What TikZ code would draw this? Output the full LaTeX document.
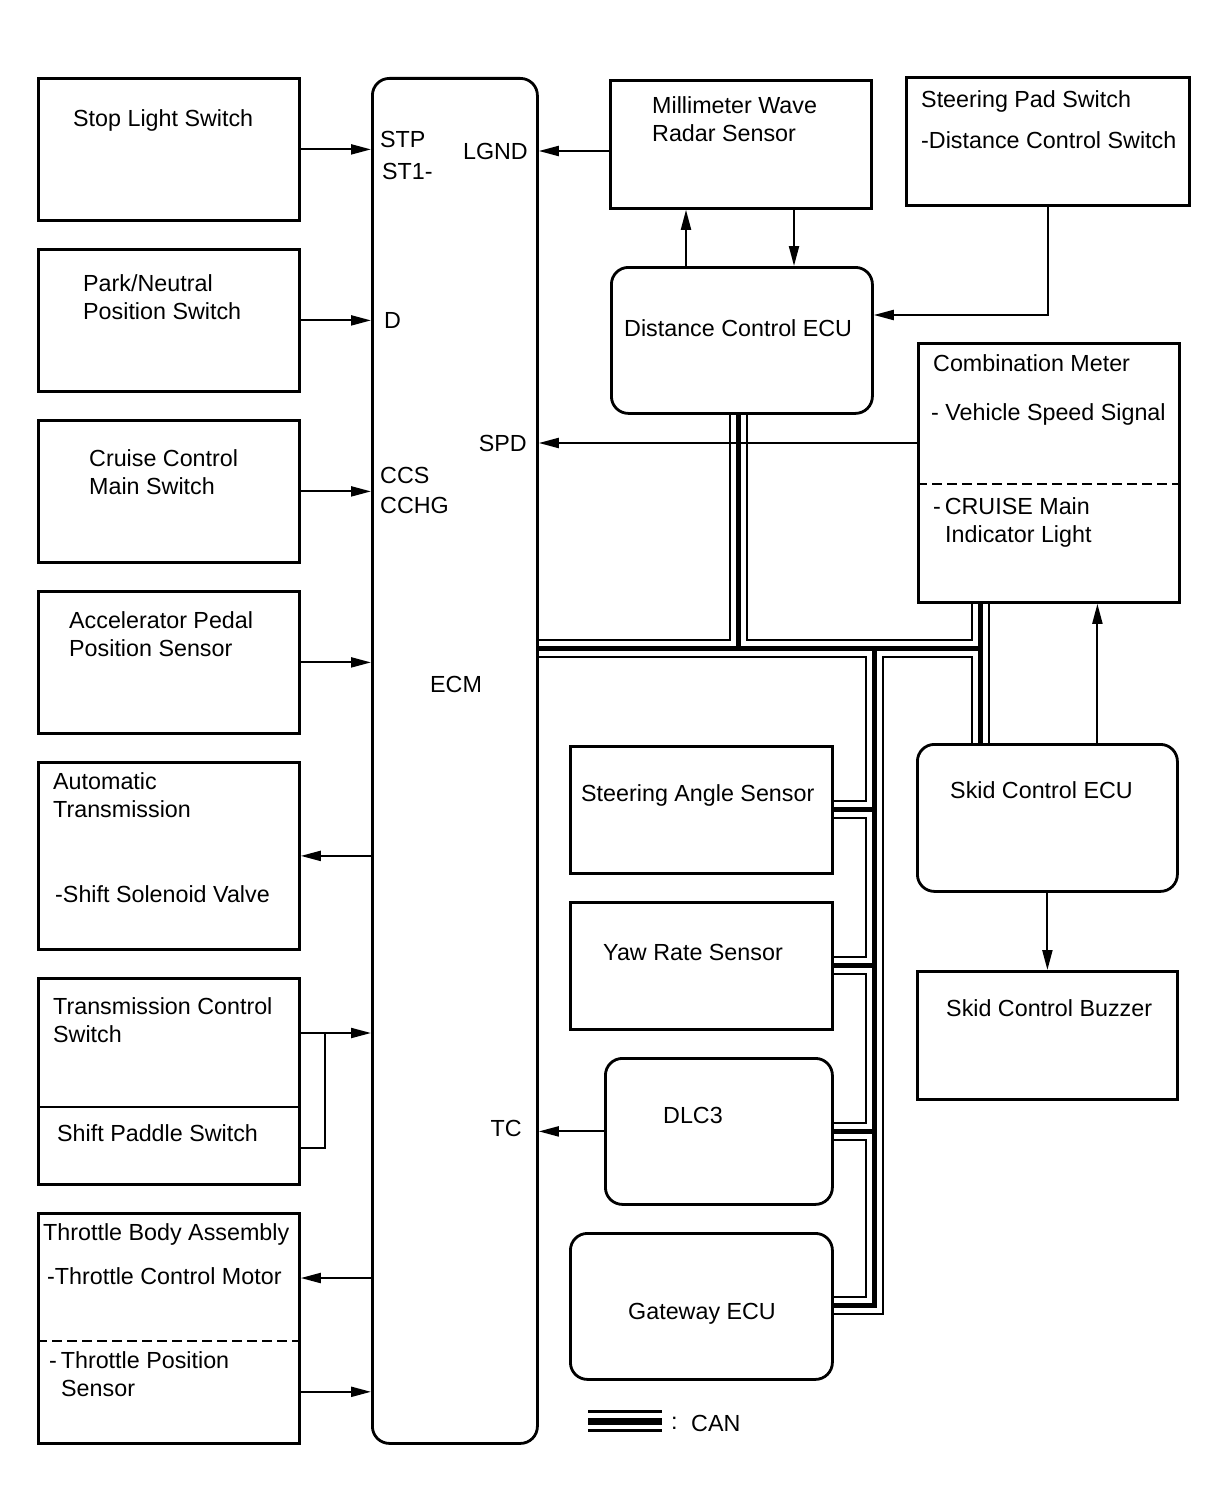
\documentclass[tikz,border=0pt]{standalone}
\usepackage{fontspec}
\setmainfont{Liberation Sans}
\usetikzlibrary{arrows.meta}
\begin{document}
\begin{tikzpicture}[x=1pt,y=-1pt,
  box/.style={draw, line width=2.8pt, anchor=north west, inner sep=0pt},
  rbox/.style={box, rounded corners=17pt},
  arr/.style={line width=2.1pt, -{Triangle[length=20pt,width=10pt]}},
  wire/.style={line width=2.1pt},
  dline/.style={line width=2.6pt, dash pattern=on 10pt off 5pt},
  txt/.style={anchor=west, inner sep=0pt, text height=16.5pt, text depth=0pt, font=\fontsize{23.3}{28}\selectfont},
  txe/.style={txt, anchor=east}]
\useasboundingbox (0,0) rectangle (1210,1498);

% ---- boxes ----
\node[box, minimum width=261pt, minimum height=142pt] (ssw) at (37,77) {};
\node[box, minimum width=261pt, minimum height=142pt] (pn) at (37,248) {};
\node[box, minimum width=261pt, minimum height=142pt] (ccm) at (37,419) {};
\node[box, minimum width=261pt, minimum height=142pt] (apps) at (37,590) {};
\node[box, minimum width=261pt, minimum height=187pt] (at) at (37,761) {};
\node[box, minimum width=261pt, minimum height=206pt] (tcs) at (37,977) {};
\node[box, minimum width=261pt, minimum height=230pt] (tb) at (37,1212) {};
\node[rbox, minimum width=165pt, minimum height=1365pt] (ecm) at (371,77) {};
\node[box, minimum width=261pt, minimum height=128pt] (radar) at (609,79) {};
\node[box, minimum width=283pt, minimum height=128pt] (spad) at (905,76) {};
\node[rbox, minimum width=261pt, minimum height=146pt] (dce) at (610,266) {};
\node[box, minimum width=261pt, minimum height=259pt] (cm) at (917,342) {};
\node[rbox, minimum width=260pt, minimum height=147pt] (skid) at (916,743) {};
\node[box, minimum width=260pt, minimum height=128pt] (buzz) at (916,970) {};
\node[box, minimum width=262pt, minimum height=127pt] (sas) at (569,745) {};
\node[box, minimum width=262pt, minimum height=127pt] (yaw) at (569,901) {};
\node[rbox, minimum width=227pt, minimum height=146pt] (dlc) at (604,1057) {};
\node[rbox, minimum width=262pt, minimum height=146pt] (gw) at (569,1232) {};

% dividers
\draw[line width=2.2pt] ([yshift=-130pt]tcs.north west) -- ([yshift=-130pt]tcs.north east);
\draw[dline] ([yshift=-142pt]cm.north west) -- ([yshift=-142pt]cm.north east);
\draw[dline] ([yshift=-129pt]tb.north west) -- ([yshift=-129pt]tb.north east);

% ---- texts ----
\node[txt] (t1) at (73,118) {Stop Light Switch};
\node[txt] (stp) at (380,139) {STP};
\node[txt] (st1) at (382,171) {ST1-};
\node[txe] (lgnd) at (528,151) {LGND};
\node[txt] (t2) at (652,105) {Millimeter Wave};
\node[txt] (t3) at (652,133) {Radar Sensor};
\node[txt] (t4) at (921,99) {Steering Pad Switch};
\node[txt] (t5) at (921,140) {-Distance Control Switch};
\node[txt] (t6) at (83,283) {Park/Neutral};
\node[txt] (t7) at (83,311) {Position Switch};
\node[txt] (dpin) at (384,320) {D};
\node[txt] (t8) at (624,328) {Distance Control ECU};
\node[txt] (t9) at (933,363) {Combination Meter};
\node[txt] (t10) at (931,412) {- Vehicle Speed Signal};
\node[txe] (spd) at (527,443) {SPD};
\node[txt] (t11) at (89,458) {Cruise Control};
\node[txt] (t12) at (89,486) {Main Switch};
\node[txt] (ccs) at (380,475) {CCS};
\node[txt] (cchg) at (380,505) {CCHG};
\node[txt] (t13) at (933,506) {-\,CRUISE Main};
\node[txt] (t14) at (945,534) {Indicator Light};
\node[txt] (t15) at (69,620) {Accelerator Pedal};
\node[txt] (t16) at (69,648) {Position Sensor};
\node[txt] (t17) at (430,684) {ECM};
\node[txt] (t18) at (53,781) {Automatic};
\node[txt] (t19) at (53,809) {Transmission};
\node[txt] (t20) at (55,894) {-Shift Solenoid Valve};
\node[txt] (t21) at (581,793) {Steering Angle Sensor};
\node[txt] (t22) at (950,790) {Skid Control ECU};
\node[txt] (t23) at (603,952) {Yaw Rate Sensor};
\node[txt] (t24) at (946,1008) {Skid Control Buzzer};
\node[txt] (t25) at (53,1006) {Transmission Control};
\node[txt] (t26) at (53,1034) {Switch};
\node[txt] (t27) at (663,1115) {DLC3};
\node[txe] (tc) at (522,1128) {TC};
\node[txt] (t28) at (57,1133) {Shift Paddle Switch};
\node[txt] (t29) at (43,1232) {Throttle Body Assembly};
\node[txt] (t30) at (47,1276) {-Throttle Control Motor};
\node[txt] (t31) at (49,1360) {-\,Throttle Position};
\node[txt] (t32) at (61,1388) {Sensor};
\node[txt] (t33) at (628,1311) {Gateway ECU};
\node[txt] (colon) at (671,1421) {:};
\node[txt] (t34) at (691,1423) {CAN};

% ---- CAN bus ----
\coordinate (j1) at (738,648);
\coordinate (j2) at (874,648);
\coordinate (j3) at (980,648);
\coordinate (j4) at (874,1305);
\coordinate (lg1) at (588,1421);
\coordinate (lg2) at (662,1421);
\def\canroutes{%
  \draw (ecm.east |- j1) -- (j3);
  \draw (j1) -- (j1 |- dce.south);
  \draw (j3 |- cm.south) -- (j3 |- skid.north);
  \draw (j2) -- (j4) -- (j4 -| gw.east);
  \draw (j2 |- sas.east) -- (sas.east);
  \draw (j2 |- yaw.east) -- (yaw.east);
  \draw (j2 |- dlc.east) -- (dlc.east);
}
\begin{scope}[line width=19pt, black, miter limit=10]\canroutes\end{scope}
\begin{scope}[line width=15pt, white, miter limit=10]\canroutes\end{scope}
\begin{scope}[line width=5pt, black, miter limit=10]\canroutes\end{scope}
% legend
\draw[line width=3pt] ([yshift=9.5pt]lg1) -- ([yshift=9.5pt]lg2);
\draw[line width=7pt] (lg1) -- (lg2);
\draw[line width=3pt] ([yshift=-9.5pt]lg1) -- ([yshift=-9.5pt]lg2);

% ---- signal arrows ----
\draw[arr] (ssw.east) -- (ssw.east -| ecm.west);
\draw[arr] (pn.east) -- (pn.east -| ecm.west);
\draw[arr] (ccm.east) -- (ccm.east -| ecm.west);
\draw[arr] (apps.east) -- (apps.east -| ecm.west);
\draw[arr] (at.east -| ecm.west) -- (at.east);
\draw[arr] ([yshift=-56pt]tcs.north east) -- ([yshift=-56pt]tcs.north east -| ecm.west);
\draw[wire] ([yshift=38pt]tcs.south east) -| ([yshift=-56pt,xshift=24pt]tcs.north east);
\draw[arr] ([yshift=-66pt]tb.north east -| ecm.west) -- ([yshift=-66pt]tb.north east);
\draw[arr] ([yshift=53pt]tb.south east) -- ([yshift=53pt]tb.south east -| ecm.west);
\draw[arr] (radar.west |- lgnd) -- (ecm.east |- lgnd);
\draw[arr] (cm.west |- spd) -- (ecm.east |- spd);
\draw[arr] (dlc.west) -- (dlc.west -| ecm.east);
\draw[arr] ([xshift=76pt]dce.north west) -- ([xshift=76pt]dce.north west |- radar.south);
\draw[arr] ([xshift=184pt]dce.north west |- radar.south) -- ([xshift=184pt]dce.north west);
\draw[arr] (spad.south) |- ([yshift=-49pt]dce.north east);
\draw[arr] ([xshift=50pt]skid.north) -- ([xshift=50pt]skid.north |- cm.south);
\draw[arr] (skid.south) -- (buzz.north);
\end{tikzpicture}
\end{document}
